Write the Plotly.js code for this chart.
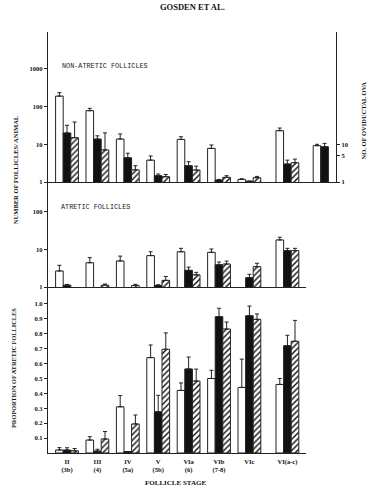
<!DOCTYPE html>
<html>
<head>
<meta charset="utf-8">
<script src="https://cdn.plot.ly/plotly-3.0.1.min.js"></script>
<style>html,body{margin:0;padding:0;background:#fff;}#chart{width:376px;height:493px;}</style>
</head>
<body>
<div id="chart"></div>
<script>
// ---- data ----
const stages = ['II','III','IV','V','VIa','VIb','VIc','VI(a-c)'];
const stageSub = ['(3b)','(4)','(5a)','(5b)','(6)','(7-8)','',''];

// Non-atretic follicles per animal (log scale)
const nonAtrWhite    = [190, 78, 13.8, 3.8, 13.5, 7.8, 1.17, 23];
const nonAtrWhiteErr = [44, 12, 5, 1.1, 2.4, 1.8, 0.05, 4];
const nonAtrBlack    = [20, 13.8, 4.4, 1.47, 2.7, 1.13, 1.05, 3.0];
const nonAtrBlackErr = [12, 3, 1.4, 0.16, 0.75, 0.04, 0, 0.8];
const nonAtrHatch    = [15, 7.1, 2.1, 1.38, 2.08, 1.33, 1.3, 3.25];
const nonAtrHatchErr = [24, 13, 0.6, 0.2, 0.55, 0.14, 0.11, 0.8];

// Oviductal ova (right axis)
const ovaWhite = [9.2], ovaWhiteErr = [0.8];
const ovaBlack = [8.6], ovaBlackErr = [2.0];

// Atretic follicles per animal (log scale)
const atrWhite    = [2.66, 4.4, 4.9, 6.8, 8.6, 8.3, null, 17.7];
const atrWhiteErr = [1.1, 1.6, 1.7, 1.8, 2.0, 1.9, null, 3.2];
const atrBlack    = [1.12, null, null, 1.1, 2.77, 3.9, 1.77, 9.2];
const atrBlackErr = [0.05, null, null, 0.05, 0.6, 0.7, 0.4, 1.4];
const atrHatch    = [null, 1.12, 1.1, 1.5, 2.1, 4.07, 3.46, 9.2];
const atrHatchErr = [null, 0.08, 0.08, 0.4, 0.35, 0.8, 0.8, 1.4];

// Proportion of atretic follicles
const propWhite    = [0.02, 0.087, 0.31, 0.64, 0.42, 0.50, 0.44, 0.46];
const propWhiteErr = [0.016, 0.022, 0.075, 0.085, 0.05, 0.055, 0.19, 0.04];
const propBlack    = [0.02, 0.013, 0.01, 0.277, 0.564, 0.915, 0.921, 0.72];
const propBlackErr = [0.015, 0.012, 0, 0.11, 0.08, 0.056, 0.065, 0.07];
const propHatch    = [0.015, 0.094, 0.195, 0.696, 0.483, 0.832, 0.897, 0.75];
const propHatchErr = [0.015, 0.05, 0.06, 0.11, 0.08, 0.047, 0.036, 0.14];

const logTicks1 = [1, 10, 100, 1000];
const logTicks2 = [1, 10, 100];
const ovaTicks = [1, 5, 10];
const propTicks = [0.1,0.2,0.3,0.4,0.5,0.6,0.7,0.8,0.9,1.0];

// ---- layout helpers ----
const pos = stages.map((s, i) => i < 7 ? i : i + 0.25);
const ovaPos = [8.35];
const BW = 0.25;
const serif = 'Liberation Serif, Times New Roman, serif';
const mono = 'Liberation Mono, Courier New, monospace';
const LC = '#222';

function errs(arr) {
  return {type:'data', array:arr, arrayminus:arr.map(()=>0), symmetric:false,
          color:LC, thickness:1, width:2};
}
function bar(y, err, style, xa, ya, x, offset) {
  const m = {line:{color:LC, width:1}};
  if (style === 'white') m.color = '#fff';
  else if (style === 'black') m.color = '#111';
  else { m.color = '#fff'; m.pattern = {shape:'/', fgcolor:'#111', bgcolor:'#fff', size:4, solidity:0.35}; }
  return {type:'bar', x:x || pos, y:y, width:BW, offset:offset, marker:m,
          error_y:errs(err), xaxis:xa, yaxis:ya, showlegend:false, hoverinfo:'skip'};
}

const traces = [
  bar(nonAtrWhite, nonAtrWhiteErr, 'white', 'x', 'y', null, -0.375),
  bar(nonAtrBlack, nonAtrBlackErr, 'black', 'x', 'y', null, -0.125),
  bar(nonAtrHatch, nonAtrHatchErr, 'hatch', 'x', 'y', null, 0.125),
  bar(ovaWhite, ovaWhiteErr, 'white', 'x', 'y4', ovaPos, -0.25),
  bar(ovaBlack, ovaBlackErr, 'black', 'x', 'y4', ovaPos, 0),
  bar(atrWhite, atrWhiteErr, 'white', 'x2', 'y2', null, -0.375),
  bar(atrBlack, atrBlackErr, 'black', 'x2', 'y2', null, -0.125),
  bar(atrHatch, atrHatchErr, 'hatch', 'x2', 'y2', null, 0.125),
  bar(propWhite, propWhiteErr, 'white', 'x3', 'y3', null, -0.375),
  bar(propBlack, propBlackErr, 'black', 'x3', 'y3', null, -0.125),
  bar(propHatch, propHatchErr, 'hatch', 'x3', 'y3', null, 0.125)
];

const tickFont = {family:serif, size:6.5, color:'#111', weight:'bold'};
const baseX = {showline:true, linecolor:LC, linewidth:1.2, zeroline:false, showgrid:false,
               ticks:'', fixedrange:true};
const baseY = {showline:true, linecolor:LC, linewidth:1.2, zeroline:false, showgrid:false,
               ticks:'outside', ticklen:3, tickwidth:1, tickcolor:LC, tickfont:tickFont, fixedrange:true};

const layout = {
  width:376, height:493,
  margin:{l:48, r:40, t:32, b:40, pad:0},
  paper_bgcolor:'#fff', plot_bgcolor:'rgba(0,0,0,0)',
  barmode:'overlay',
  showlegend:false,
  xaxis: Object.assign({}, baseX, {domain:[0,1], range:[-0.625, 8.85], anchor:'y', showticklabels:false}),
  xaxis2: Object.assign({}, baseX, {domain:[0,0.896], range:[-0.625, 7.863], anchor:'y2', showticklabels:false}),
  xaxis3: Object.assign({}, baseX, {domain:[0,0.896], range:[-0.625, 7.863], anchor:'y3',
           tickvals:pos, ticktext:stages.map((s,i)=> stageSub[i] ? s + '<br>' + stageSub[i] : s),
           tickfont:{family:serif, size:6.5, color:'#111', weight:'bold'}, ticklabelstandoff:2}),
  yaxis: Object.assign({}, baseY, {domain:[0.6437,1], type:'log', range:[0,3.98], anchor:'x',
           tickvals:logTicks1, ticktext:logTicks1.map(String)}),
  yaxis2: Object.assign({}, baseY, {domain:[0.3943,0.6437], type:'log', range:[0,2.785], anchor:'x2',
           tickvals:logTicks2, ticktext:logTicks2.map(String)}),
  yaxis3: Object.assign({}, baseY, {domain:[0,0.3943], range:[0,1.114], anchor:'x3',
           tickvals:propTicks, ticktext:propTicks.map(v=>v.toFixed(1))}),
  yaxis4: Object.assign({}, baseY, {overlaying:'y', side:'right', type:'log', range:[0,3.98], anchor:'x',
           tickvals:ovaTicks, ticktext:ovaTicks.map(String)}),
  annotations: [
    {text:'GOSDEN ET AL.', xref:'paper', yref:'paper', x:0.502, y:1, yshift:25, xanchor:'center', yanchor:'middle',
     showarrow:false, font:{family:serif, size:8.5, color:'#111', weight:'bold'}},
    {text:'NON-ATRETIC FOLLICLES', xref:'paper', yref:'paper', x:0.04, y:0.919, xanchor:'left', yanchor:'middle',
     showarrow:false, font:{family:mono, size:6.8, color:'#222'}},
    {text:'ATRETIC FOLLICLES', xref:'paper', yref:'paper', x:0.038, y:0.585, xanchor:'left', yanchor:'middle',
     showarrow:false, font:{family:mono, size:6.8, color:'#222'}},
    {text:'NUMBER OF FOLLICLES/ ANIMAL', xref:'paper', yref:'paper', x:-0.115, xanchor:'center', y:0.674, yanchor:'middle',
     textangle:-90, showarrow:false, font:{family:serif, size:6.5, color:'#111', weight:'bold'}},
    {text:'PROPORTION OF ATRETIC FOLLICLES', xref:'paper', yref:'paper', x:-0.118, xanchor:'center', y:0.202, yanchor:'middle',
     textangle:-90, showarrow:false, font:{family:serif, size:6.3, color:'#111', weight:'bold'}},
    {text:'NO. OF OVIDUCTAL OVA', xref:'paper', yref:'paper', x:1.094, xanchor:'center', y:0.79, yanchor:'middle',
     textangle:-90, showarrow:false, font:{family:serif, size:6.5, color:'#111', weight:'bold'}},
    {text:'FOLLICLE STAGE', xref:'paper', yref:'paper', x:0.442, xanchor:'center', y:0, yshift:-30, yanchor:'middle',
     showarrow:false, font:{family:serif, size:7, color:'#111', weight:'bold'}}
  ]
};

Plotly.newPlot('chart', traces, layout, {staticPlot:true, displayModeBar:false});
</script>
</body>
</html>
